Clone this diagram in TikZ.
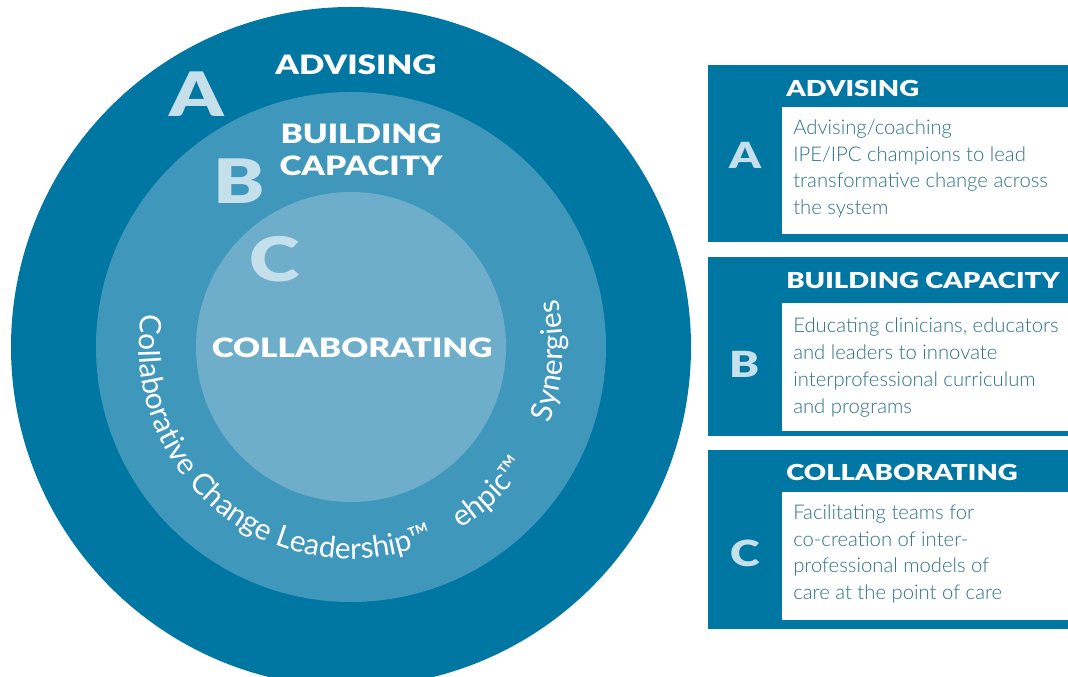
\documentclass[tikz,border=0pt]{standalone}
\usepackage{fontspec}
\setmainfont{Lato}
\newfontfamily\headfont{Lato Black}[FakeStretch=1.25]
\newfontfamily\bodyfont{Lato Light}
\newfontfamily\arcfont{Lato}
\usetikzlibrary{calc,decorations.text}

\definecolor{darkblue}{RGB}{0,118,163}
\definecolor{midblue}{RGB}{63,151,187}
\definecolor{paleblue}{RGB}{111,174,203}
\definecolor{letterblue}{RGB}{197,224,234}
\definecolor{bodyteal}{RGB}{45,115,135}

\tikzset{
  bigletter/.style={font=\headfont\fontsize{46}{46}\selectfont, text=letterblue, inner sep=0pt},
  ringtitle/.style={font=\headfont\fontsize{20}{24}\selectfont, text=white, inner sep=0pt},
  boxletter/.style={font=\headfont\fontsize{27}{27}\selectfont, text=letterblue, inner sep=0pt},
  boxtitle/.style={font=\headfont\fontsize{16.5}{18}\selectfont, text=white, anchor=west, inner sep=0pt},
  boxline/.style={font=\bodyfont\fontsize{15.2}{20}\selectfont, text=bodyteal, anchor=base west, inner sep=0pt},
  arctext/.style={color=white, decorate, decoration={text along path, text align={left}, text={#1}}}
}

\begin{document}
\begin{tikzpicture}[x=0.75pt,y=0.75pt]
\useasboundingbox (0,0) rectangle (1068,677);
\clip (0,0) rectangle (1068,677);

\coordinate (ctr) at (351,330);

\fill[darkblue] (ctr) circle (340);
\fill[midblue] (ctr) circle (255);
\fill[paleblue] (ctr) circle (155);

\node[ringtitle] (advring) at (356,612) {ADVISING};
\node[ringtitle] (buildring) at (361,543) {BUILDING};
\node[ringtitle] (capring) at (361,511) {CAPACITY};
\node[ringtitle] (collring) at (352,329) {COLLABORATING};

\node[bigletter] (ringA) at (197,583) {A};
\node[bigletter] (ringB) at (239,496) {B};
\node[bigletter] (ringC) at (275,418) {C};

\path[arctext={|\arcfont\fontsize{22.3}{24}\selectfont\color{white}|Collaborative Change Leadership™}] ($(ctr)+(171:212)$) arc (171:305:212);
\path[arctext={|\arcfont\fontsize{22.3}{24}\selectfont\color{white}|ehpic™}] ($(ctr)+(301:212)$) arc (301:345:212);
\path[arctext={|\arcfont\fontsize{22.3}{24}\selectfont\color{white}|Synergies}] ($(ctr)+(339:212)$) arc (339:385:212);

\fill[darkblue] (708,435) rectangle (1068,612);
\fill[white] (782,443) rectangle (1068,570);
\node[boxtitle] (advtitle) at (786,589) {ADVISING};
\node[boxletter] (boxA) at (745,522) {A};
\node[boxline] (advl1) at (793,542) {Advising/coaching};
\node[boxline] (advl2) at (793,515) {IPE/IPC champions to lead};
\node[boxline] (advl3) at (793,489) {transformative change across};
\node[boxline] (advl4) at (793,462) {the system};

\fill[darkblue] (708,241) rectangle (1068,420);
\fill[white] (782,246) rectangle (1068,374);
\node[boxtitle] (buildtitle) at (786,397) {BUILDING CAPACITY};
\node[boxletter] (boxB) at (745,313) {B};
\node[boxline] (buildl1) at (793,344) {Educating clinicians, educators};
\node[boxline] (buildl2) at (793,317) {and leaders to innovate};
\node[boxline] (buildl3) at (793,290) {interprofessional curriculum};
\node[boxline] (buildl4) at (793,263) {and programs};

\fill[darkblue] (708,48) rectangle (1068,227);
\fill[white] (782,57) rectangle (1068,185);
\node[boxtitle] (colltitle) at (786,205) {COLLABORATING};
\node[boxletter] (boxC) at (745,124) {C};
\node[boxline] (colll1) at (793,157) {Facilitating teams for};
\node[boxline] (colll2) at (793,130) {co-creation of inter-};
\node[boxline] (colll3) at (793,104) {professional models of};
\node[boxline] (colll4) at (793,77) {care at the point of care};
\end{tikzpicture}
\end{document}
